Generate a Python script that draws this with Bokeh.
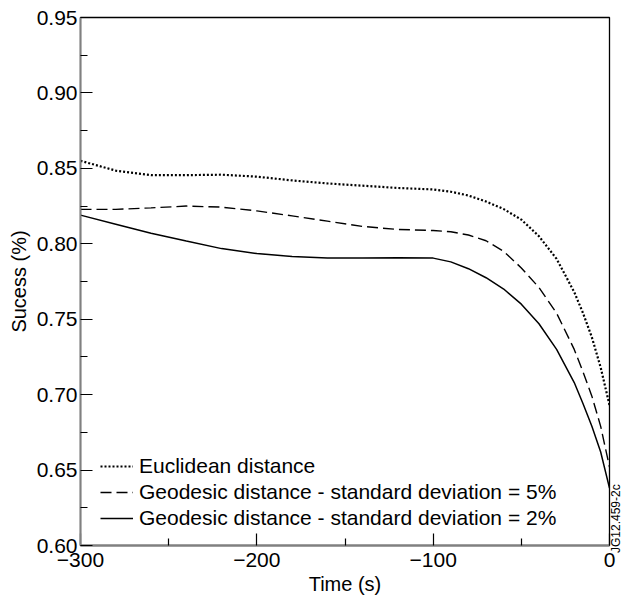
from bokeh.plotting import figure
from bokeh.models import Legend, LegendItem, FixedTicker, Div
from bokeh.layouts import row
from bokeh.embed import file_html
from bokeh.resources import INLINE

time_s = [-300, -280, -260, -240, -220, -200, -180, -160, -140, -120, -100,
          -90, -80, -70, -60, -50, -40, -30, -20, -15, -10, -5, 0]
euclidean = [0.8550, 0.8485, 0.8455, 0.8455, 0.8458, 0.8445, 0.8420, 0.8400,
             0.8385, 0.8370, 0.8360, 0.8345, 0.8320, 0.8280, 0.8230, 0.8160,
             0.8050, 0.7900, 0.7680, 0.7540, 0.7380, 0.7180, 0.6930]
geodesic_5 = [0.8228, 0.8228, 0.8238, 0.8250, 0.8243, 0.8218, 0.8185, 0.8150,
              0.8115, 0.8095, 0.8088, 0.8080, 0.8058, 0.8020, 0.7950, 0.7840,
              0.7710, 0.7540, 0.7300, 0.7150, 0.6990, 0.6790, 0.6520]
geodesic_2 = [0.8190, 0.8130, 0.8070, 0.8018, 0.7968, 0.7935, 0.7915, 0.7905,
              0.7905, 0.7907, 0.7905, 0.7880, 0.7835, 0.7775, 0.7700, 0.7600,
              0.7470, 0.7300, 0.7080, 0.6940, 0.6790, 0.6620, 0.6380]
series_labels = ["Euclidean distance",
                 "Geodesic distance - standard deviation = 5%",
                 "Geodesic distance - standard deviation = 2%"]
x_ticks = [-300, -200, -100, 0]
x_tick_labels = ["\u2212300", "\u2212200", "\u2212100", "0"]
y_ticks = [0.60, 0.65, 0.70, 0.75, 0.80, 0.85, 0.90, 0.95]
y_tick_labels = ["0.60", "0.65", "0.70", "0.75", "0.80", "0.85", "0.90", "0.95"]
x_label = "Time (s)"
y_label = "Sucess (%)"
stamp = "JG12.459-2c"

FONT = "Liberation Sans"

p = figure(width=617, height=597, output_backend="svg", toolbar_location=None,
           x_range=(-300, 0), y_range=(0.60, 0.95),
           min_border_left=80, min_border_right=8, min_border_top=17,
           min_border_bottom=51)
p.background_fill_color = "white"
p.border_fill_color = "white"
p.grid.visible = False
p.outline_line_color = "black"
p.outline_line_width = 1.3

r1 = p.line(time_s, euclidean, line_color="black", line_width=2.2, line_dash="2 2")
r2 = p.line(time_s, geodesic_5, line_color="black", line_width=1.4, line_dash="11 5")
r3 = p.line(time_s, geodesic_2, line_color="black", line_width=1.5)

p.xaxis.ticker = FixedTicker(ticks=x_ticks, minor_ticks=[-250, -150, -50])
p.xaxis.major_label_overrides = {t: l for t, l in zip(x_ticks, x_tick_labels)}
p.yaxis.ticker = FixedTicker(ticks=y_ticks,
                             minor_ticks=[0.625, 0.675, 0.725, 0.775, 0.825, 0.875, 0.925])
p.yaxis.major_label_overrides = {t: l for t, l in zip(y_ticks, y_tick_labels)}

for ax in (p.xaxis, p.yaxis):
    ax.axis_line_color = "#808080"
    ax.axis_line_width = 1.8
    ax.major_tick_in = 12
    ax.major_tick_out = 0
    ax.minor_tick_in = 7
    ax.minor_tick_out = 0
    ax.major_tick_line_color = "black"
    ax.minor_tick_line_color = "black"
    ax.major_tick_line_width = 1.2
    ax.minor_tick_line_width = 1.2
    ax.major_label_text_font = FONT
    ax.major_label_text_font_size = "21px"
    ax.major_label_text_color = "black"
    ax.axis_label_text_font = FONT
    ax.axis_label_text_font_size = "20px"
    ax.axis_label_text_font_style = "normal"
    ax.axis_label_text_color = "black"

p.xaxis.axis_label = x_label
p.yaxis.axis_label = y_label
p.xaxis.major_label_standoff = 7
p.yaxis.major_label_standoff = 3
p.xaxis.axis_label_standoff = 3
p.yaxis.axis_label_standoff = 4

legend = Legend(items=[LegendItem(label=series_labels[0], renderers=[r1]),
                       LegendItem(label=series_labels[1], renderers=[r2]),
                       LegendItem(label=series_labels[2], renderers=[r3])],
                location=(20, 14), orientation="vertical")
legend.background_fill_alpha = 0
legend.border_line_alpha = 0
legend.padding = 0
legend.margin = 0
legend.spacing = 0
legend.glyph_width = 33
legend.glyph_height = 26
legend.label_height = 26
legend.label_standoff = 6
legend.label_text_font = FONT
legend.label_text_font_size = "21px"
legend.label_text_color = "black"
p.add_layout(legend, "center")

# narrow strip on the right holding the vertical figure stamp (reads bottom to top)
stamp_html = ('<div style="position:absolute; left:-6px; top:553px; '
              'transform:rotate(-90deg); transform-origin:left top; '
              'font-family:\'Liberation Sans\'; font-size:12px; line-height:11px; '
              'white-space:nowrap; color:black;">' + stamp + '</div>')
side = Div(text=stamp_html, width=5, height=597, margin=0,
           styles={"position": "relative", "overflow": "visible"})

layout = row(p, side, spacing=0)
open("out.html", "w").write(file_html(layout, INLINE))
